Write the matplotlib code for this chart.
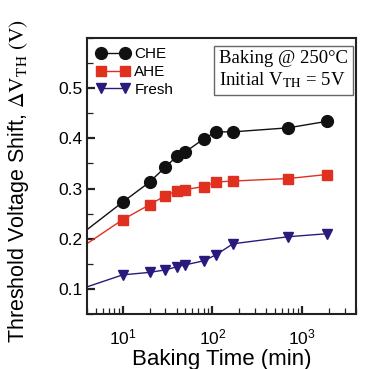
import matplotlib
matplotlib.use("Agg")
import matplotlib.pyplot as plt
from matplotlib.ticker import LogLocator, NullFormatter, MultipleLocator

plt.rcParams['font.family'] = ['Liberation Sans', 'DejaVu Sans']
plt.rcParams['mathtext.fontset'] = 'stix'

# Baking time (min) and threshold voltage shift (V)
time_min = [1, 10, 20, 30, 40, 50, 80, 110, 170, 700, 1900]
che = [0.135, 0.273, 0.313, 0.343, 0.364, 0.373, 0.399, 0.413, 0.413, 0.421, 0.434]
ahe = [0.118, 0.238, 0.268, 0.286, 0.295, 0.298, 0.304, 0.313, 0.315, 0.320, 0.328]
fresh = [0.068, 0.128, 0.133, 0.138, 0.144, 0.148, 0.156, 0.168, 0.190, 0.204, 0.210]
series_names = ["CHE", "AHE", "Fresh"]
y_ticks = [0.1, 0.2, 0.3, 0.4, 0.5]

fig = plt.figure(figsize=(3.66, 3.69), dpi=100)
ax = fig.add_axes([0.2377, 0.149, 0.735, 0.748])

ax.plot(time_min, che, '-o', color='#111111', ms=8.5, lw=1.0, label=series_names[0])
ax.plot(time_min, ahe, '-s', color='#e0301f', ms=6.8, lw=1.0, label=series_names[1])
ax.plot(time_min, fresh, '-v', color='#2b1a7c', ms=7.8, lw=1.0, label=series_names[2])

ax.set_xscale('log')
ax.set_xlim(4, 4000)
ax.set_ylim(0.05, 0.6)
ax.set_yticks(y_ticks)
ax.set_yticklabels([f"{v:.1f}" for v in y_ticks])
ax.yaxis.set_minor_locator(MultipleLocator(0.05))
ax.xaxis.set_major_locator(LogLocator(base=10, numticks=10))
ax.xaxis.set_minor_locator(LogLocator(base=10, subs=range(2, 10), numticks=20))
ax.xaxis.set_minor_formatter(NullFormatter())

ax.tick_params(which='both', direction='in', top=False, right=False, labelsize=12.5, color='#222222')
ax.tick_params(which='major', length=6, width=1.6)
ax.tick_params(which='minor', length=4, width=0.9)
ax.tick_params(axis='x', pad=10)
for s in ax.spines.values():
    s.set_linewidth(1.5)
    s.set_color('#222222')

ax.set_xlabel("Baking Time (min)", fontsize=16, labelpad=0)
ax.set_ylabel(r"Threshold Voltage Shift, $\Delta\mathrm{V}_{\mathrm{TH}}\ \mathrm{(V)}$",
              fontsize=15.5, labelpad=4)
ax.yaxis.set_label_coords(-0.21, 0.48)
ax.xaxis.set_label_coords(0.5, -0.125)

leg = ax.legend(loc='upper left', numpoints=2, frameon=False, fontsize=11,
                handlelength=2.2, handletextpad=0.3, labelspacing=0.25,
                borderaxespad=0.2, bbox_to_anchor=(0.0, 1.0))

ax.text(0.49, 0.955, "Baking @ 250°C\nInitial V$_{\\mathrm{TH}}$ = 5V",
        transform=ax.transAxes, ha='left', va='top', fontsize=13.5,
        multialignment='left',
        family=['Liberation Serif'], linespacing=1.2,
        bbox=dict(boxstyle='square,pad=0.25', fc='white', ec='#666666', lw=1.0))

fig.savefig("out.png", dpi=100)
